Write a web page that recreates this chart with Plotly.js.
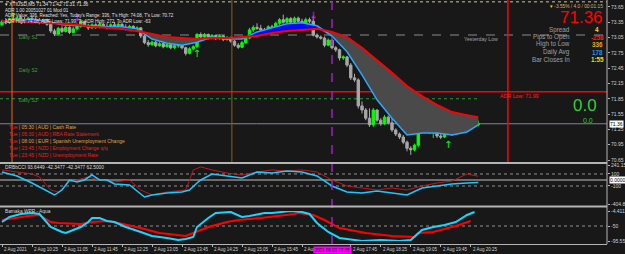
<!DOCTYPE html>
<html><head><meta charset="utf-8">
<script src="https://cdn.plot.ly/plotly-3.0.1.min.js"></script>
<style>html,body{margin:0;padding:0;background:#181818;}#chart{width:625px;height:254px;}</style>
</head><body><div id="chart"></div>
<script>
// ---- price bars (M5, bar index 0..127) ----
const openP = [73.30,73.36,73.34,73.42,73.38,73.44,73.40,73.36,73.43,73.41,73.39,73.34,73.40,73.31,73.18,73.12,73.23,73.17,73.25,73.15,73.22,73.27,73.36,73.29,73.24,73.30,73.25,73.31,73.27,73.24,73.30,73.28,73.31,73.25,73.22,73.27,73.21,73.24,73.08,72.95,72.91,72.96,72.89,72.93,72.87,72.91,72.85,72.89,72.91,72.85,72.74,72.83,72.87,73.11,73.06,73.11,73.04,73.09,73.03,73.08,73.01,73.05,72.98,72.90,72.86,72.95,73.04,73.20,73.25,73.23,73.20,73.17,73.26,73.22,73.33,73.40,73.35,73.42,73.35,73.43,73.37,73.33,73.40,73.37,73.10,73.06,73.04,72.90,73.00,72.85,72.81,72.65,72.67,72.51,72.26,72.22,71.71,71.63,71.47,71.34,71.63,71.43,71.36,71.49,71.38,71.24,71.16,71.10,71.00,70.88,70.85,70.94,71.32,71.24,71.22,71.20,71.26,71.12,71.10,71.26,71.20,71.16,71.28,71.36,71.30,71.36,71.40,71.34];
const highP = [73.40,73.43,73.44,73.47,73.46,73.48,73.45,73.45,73.49,73.46,73.43,73.42,73.42,73.33,73.22,73.26,73.27,73.28,73.27,73.26,73.31,73.40,73.38,73.32,73.33,73.33,73.35,73.34,73.33,73.33,73.36,73.34,73.33,73.31,73.30,73.29,73.27,73.25,73.11,73.00,72.99,72.98,72.96,72.95,72.94,72.93,72.92,72.94,72.93,72.87,72.86,72.90,73.14,73.15,73.14,73.13,73.12,73.11,73.11,73.10,73.08,73.07,73.00,72.94,72.98,73.07,73.24,73.29,73.33,73.30,73.24,73.29,73.30,73.36,73.43,73.50,73.45,73.45,73.46,73.46,73.42,73.44,73.44,73.48,73.13,73.09,73.07,73.03,73.02,72.88,72.83,72.70,72.69,72.55,72.34,72.25,71.80,71.67,71.66,71.67,71.64,71.47,71.53,71.52,71.55,71.27,71.19,71.14,71.03,70.92,70.97,71.36,71.38,71.27,71.25,71.29,71.28,71.16,71.30,71.28,71.24,71.31,71.40,71.42,71.39,71.43,71.47,71.42];
const lowP = [73.27,73.31,73.32,73.35,73.36,73.37,73.33,73.34,73.38,73.36,73.31,73.32,73.28,73.14,73.08,73.10,73.14,73.15,73.12,73.13,73.19,73.24,73.26,73.20,73.22,73.22,73.23,73.24,73.21,73.22,73.25,73.24,73.22,73.19,73.20,73.19,73.17,73.04,72.92,72.87,72.89,72.86,72.87,72.84,72.85,72.82,72.83,72.85,72.82,72.70,72.72,72.80,72.85,73.03,73.04,73.01,73.02,73.00,73.01,72.98,72.99,72.95,72.87,72.83,72.84,72.93,73.02,73.16,73.20,73.18,73.13,73.15,73.19,73.20,73.30,73.32,73.33,73.32,73.33,73.34,73.30,73.31,73.33,73.07,73.03,73.01,72.86,72.88,72.82,72.77,72.60,72.61,72.47,72.22,72.18,71.66,71.56,71.43,71.30,71.30,71.40,71.32,71.34,71.35,71.20,71.12,71.06,70.96,70.82,70.75,70.82,70.90,71.20,71.18,71.16,71.08,71.08,71.06,71.08,71.16,71.12,71.14,71.26,71.27,71.28,71.33,71.30,71.31];
const closeP = [73.36,73.34,73.42,73.38,73.44,73.40,73.36,73.43,73.41,73.39,73.34,73.40,73.31,73.18,73.12,73.23,73.17,73.25,73.15,73.22,73.27,73.36,73.29,73.24,73.30,73.25,73.31,73.27,73.24,73.30,73.28,73.31,73.25,73.22,73.27,73.21,73.24,73.08,72.95,72.91,72.96,72.89,72.93,72.87,72.91,72.85,72.89,72.91,72.85,72.74,72.83,72.87,73.11,73.06,73.11,73.04,73.09,73.03,73.08,73.01,73.05,72.98,72.90,72.86,72.95,73.04,73.20,73.25,73.23,73.20,73.17,73.26,73.22,73.33,73.40,73.35,73.42,73.35,73.43,73.37,73.33,73.40,73.37,73.10,73.06,73.04,72.90,73.00,72.85,72.81,72.65,72.67,72.51,72.26,72.22,71.71,71.63,71.47,71.34,71.63,71.43,71.36,71.49,71.38,71.24,71.16,71.10,71.00,70.88,70.85,70.94,71.32,71.24,71.22,71.20,71.26,71.12,71.10,71.26,71.20,71.16,71.28,71.36,71.30,71.36,71.40,71.34,71.36];

// ---- moving averages ----
const maBars = [0,4,8,12,16,20,24,28,32,36,40,44,48,52,56,60,64,68,72,76,80,84,88,92,96,100,104,108,112,116,120,124,127];
const maSlow = [73.37,73.37,73.35,73.34,73.32,73.30,73.26,73.24,73.22,73.18,73.12,73.06,73.04,73.02,73.04,73.04,73.06,73.08,73.14,73.18,73.20,73.22,73.16,73.06,72.85,72.61,72.36,72.10,71.90,71.73,71.59,71.53,71.49];
const maFast = [73.35,73.39,73.41,73.37,73.30,73.28,73.28,73.26,73.26,73.22,73.02,72.94,72.90,72.96,73.06,73.02,73.02,73.16,73.24,73.32,73.34,73.28,73.08,72.77,72.32,71.83,71.47,71.14,71.18,71.18,71.14,71.20,71.34];

// ---- CCI pane ----
const cciBlueBars = [0,4,8,12,14,16,18,20,22,24,26,28,30,34,38,40,44,48,50,52,53,56,60,64,68,72,76,80,84,88,92,96,100,104,108,112,116,120,124,127];
const cciBlue = [133,67,-50,-183,-250,-167,0,-33,0,83,0,0,-67,-83,-283,-250,-217,-200,-167,-50,0,100,67,33,133,117,150,133,67,-100,-200,-217,-183,-217,-250,-133,-100,-67,-50,-42];
const cciRedBars = [0,4,8,10,13,15,18,23,26,30,34,37,40,44,49,51,53,56,60,64,68,72,76,80,84,88,92,96,100,104,108,112,116,120,124,127];
const cciRed = [167,133,100,50,-167,-200,-33,50,0,-33,0,-167,-250,-200,-167,167,217,167,117,83,133,167,150,167,133,0,-100,-133,-167,-133,-167,-100,-50,-17,100,62];

// ---- WPR pane ----
const wprBlueBars = [0,2,5,8,10,13,16,17,19,21,23,24,26,28,30,33,37,40,44,47,49,51,52,55,57,61,64,66,70,72,77,80,82,84,87,90,96,101,106,109,112,115,118,121,124,126];
const wprBlue = [-37.8,-22.6,-13.5,-10.5,-13.5,-53.0,-68.2,-71.2,-62.1,-53.0,-37.8,-25.7,-25.7,-34.8,-37.8,-53.0,-68.2,-80.4,-86.4,-92.5,-89.5,-83.4,-53.0,-25.7,-10.5,-7.4,-22.6,-19.6,-10.5,-10.5,-4.4,-7.4,-13.5,-40.9,-68.2,-86.4,-95.5,-92.5,-95.5,-92.5,-62.1,-53.0,-46.9,-37.8,-16.6,-7.4];
const wprRedBars = [0,3,7,10,13,15,21,24,28,31,37,42,49,51,55,60,63,69,74,78,79,83,86,90,97,104,110,111,115,121,125];
const wprRed = [-31.8,-25.7,-19.6,-16.6,-37.8,-40.9,-43.9,-37.8,-34.8,-40.9,-56.1,-71.2,-80.4,-71.2,-53.0,-37.8,-31.8,-25.7,-19.6,-13.5,-10.5,-16.6,-31.8,-56.1,-71.2,-80.4,-83.4,-71.2,-68.2,-50.0,-34.8];

// ---- signal arrows ----
const upArrowBars = [3, 52, 119];
const upArrowPrices = [73.45, 72.71, 70.94];
const downArrowBars = [20, 83];
const downArrowPrices = [73.43, 73.46];

// ---- levels ----
const levelTop = 73.75, yesterdayLow = 73.10, adrLow = 71.99, dailyS3 = 71.85, bidPrice = 71.36;

// ---- axes labels ----
const mainTicks = [70.65,70.95,71.25,71.55,71.85,72.15,72.45,72.75,73.05,73.35,73.65];
const cciTicks = [241.1579,100,-100,-404.815];
const cciTickText = ["241.1579","100","-100","-404.815"];
const wprTicks = [-4.4112,-50,-95.5518];
const wprTickText = ["-4.4112","-50","-95.5518"];
const timeTickBars = [0,8,16,24,32,40,48,56,64,72,80,93,101,109,117,125];
const timeTickText = ["2 Aug 2021","2 Aug 10:25","2 Aug 11:05","2 Aug 11:45","2 Aug 12:25","2 Aug 13:05","2 Aug 13:45","2 Aug 14:25","2 Aug 15:05","2 Aug 15:45","2 Aug 16:25","2 Aug 17:45","2 Aug 18:25","2 Aug 19:05","2 Aug 19:45","2 Aug 20:25"];

const bars = closeP.map((_, i) => i);
const upper = maFast.map((v, i) => Math.max(v, maSlow[i]));
const lower = maFast.map((v, i) => Math.min(v, maSlow[i]));

// layout geometry helpers (pixels -> paper)
const PW = 607, PH = 244;
const px = x => x / PW, py = y => 1 - y / PH;
const FONT = "Liberation Sans, Arial, sans-serif";

const traces = [
  {x: maBars, y: maSlow, mode: 'lines', line: {width: 0}, hoverinfo: 'skip', showlegend: false},
  {x: maBars, y: upper, mode: 'lines', line: {width: 0}, fill: 'tonexty', fillcolor: '#0a0af0', hoverinfo: 'skip', showlegend: false},
  {x: maBars, y: maSlow, mode: 'lines', line: {width: 0}, hoverinfo: 'skip', showlegend: false},
  {x: maBars, y: lower, mode: 'lines', line: {width: 0}, fill: 'tonexty', fillcolor: '#4a4a4a', hoverinfo: 'skip', showlegend: false},
  {type: 'candlestick', x: bars, open: openP, high: highP, low: lowP, close: closeP,
   increasing: {line: {color: '#00ff00', width: 1}, fillcolor: '#00ff00'},
   decreasing: {line: {color: '#a8a8a8', width: 1}, fillcolor: '#a8a8a8'},
   whiskerwidth: 0, showlegend: false},
  {x: maBars, y: maFast, mode: 'lines', line: {color: '#2aa8ff', width: 1.5}, showlegend: false},
  {x: maBars, y: maSlow, mode: 'lines', line: {color: '#ff0000', width: 2}, showlegend: false},
  {x: upArrowBars, y: upArrowPrices, mode: 'text', text: upArrowBars.map(() => '↑'), textfont: {color: '#00ff00', size: 10, family: 'DejaVu Sans'}, showlegend: false},
  {x: downArrowBars, y: downArrowPrices, mode: 'text', text: downArrowBars.map(() => '↓'), textfont: {color: '#ff00ff', size: 10, family: 'DejaVu Sans'}, showlegend: false},
  {x: cciRedBars, y: cciRed, yaxis: 'y2', mode: 'lines', line: {color: '#c01818', width: 1}, showlegend: false},
  {x: cciBlueBars, y: cciBlue, yaxis: 'y2', mode: 'lines', line: {color: '#1ec8ff', width: 1.5}, showlegend: false},
  {x: wprRedBars, y: wprRed, yaxis: 'y3', mode: 'lines', line: {color: '#ff0000', width: 2}, showlegend: false},
  {x: wprBlueBars, y: wprBlue, yaxis: 'y3', mode: 'lines', line: {color: '#19d6ff', width: 2}, showlegend: false}
];

const hline = (yref, y, color, dash, width, x1) => ({type: 'line', xref: 'paper', x0: 0, x1: x1 === undefined ? 1 : x1, yref: yref, y0: y, y1: y, line: {color: color, dash: dash, width: width}, layer: 'below'});
const shapes = [
  hline('y', levelTop, '#c8c890', 'dot', 1),
  hline('y', yesterdayLow, '#8a8a8a', 'dash', 1),
  hline('y', adrLow, '#ff0000', 'solid', 1.5),
  hline('y', dailyS3, '#2a9a2a', 'dot', 1, px(480)),
  hline('y', bidPrice, '#7a8796', 'solid', 1),
  hline('y2', 100, '#909090', 'dot', 1),
  hline('y2', 0, '#8a8a8a', 'solid', 1.5),
  hline('y2', -100, '#909090', 'dot', 1),
  hline('y3', -50, '#909090', 'dot', 1),
  {type: 'line', xref: 'x', x0: 2.67, x1: 2.67, yref: 'paper', y0: py(162), y1: 1, line: {color: '#e8641e', width: 1}},
  {type: 'line', xref: 'x', x0: 61.3, x1: 61.3, yref: 'paper', y0: py(162), y1: 1, line: {color: '#8c5a1e', width: 1}},
  {type: 'line', xref: 'x', x0: 134.9, x1: 134.9, yref: 'paper', y0: py(162), y1: 1, line: {color: '#ff0000', width: 1.5}},
  {type: 'line', xref: 'x', x0: 88, x1: 88, yref: 'paper', y0: 0, y1: 1, line: {color: '#a020c0', width: 1.5, dash: 'dash'}},
  {type: 'line', xref: 'paper', x0: 0, x1: 1, yref: 'paper', y0: py(163), y1: py(163), line: {color: '#b4b4b4', width: 2}},
  {type: 'line', xref: 'paper', x0: 0, x1: 1, yref: 'paper', y0: py(206.5), y1: py(206.5), line: {color: '#b4b4b4', width: 2}},
  {type: 'line', xref: 'paper', x0: 1, x1: 1, yref: 'paper', y0: 0, y1: 1, line: {color: '#b4b4b4', width: 1}}
];

const txt = (x, y, text, size, color, anchor, extra) => Object.assign({xref: 'paper', yref: 'paper', x: px(x), y: py(y), text: text, showarrow: false, xanchor: anchor || 'left', yanchor: 'middle', font: {family: FONT, size: size, color: color}}, extra || {});
const red = '#e82020', orange = '#e0a040';
const annotations = [
  txt(3, 5, '▾ XTIUSD,M5 71.34 71.42 71.31 71.36', 4.8, '#e0e0e0'),
  txt(3, 10.5, 'ADR 1.00 20051027 01 Mod 01', 4.5, '#e0e0e0'),
  txt(3, 16, "ADR Value: 336, Reached: Yes, Today's Range: 336, T's High: 74.08, T's Low: 70.72", 4.5, '#e0e0e0'),
  txt(3, 21.5, 'ADR High: 74.08, ADR Lows: 71.99, To ADR High: 272, To ADR Low: -63', 4.5, '#e0e0e0'),
  txt(17, 37, 'Daily S1', 5, '#3aa03a'),
  txt(17, 70, 'Daily S2', 5, '#3aa03a'),
  txt(17, 100, 'Daily S3', 5, '#3aa03a'),
  txt(462, 39, 'Yesterday Low', 5.2, '#a0a0a0'),
  txt(498, 96, 'ADR Low: 71.99', 5.3, '#ff2020'),
  txt(7, 127, '<span style="color:' + red + '">Tue</span> | 05:30 | AUD | Cash Rate', 5, orange),
  txt(7, 134, 'Tue | 05:30 | AUD | RBA Rate Statement', 5, red),
  txt(7, 141, '<span style="color:' + red + '">Tue</span> | 08:00 | EUR | Spanish Unemployment Change', 5, orange),
  txt(7, 148, 'Tue | 23:45 | NZD | Employment Change q/q', 5, red),
  txt(7, 155, 'Tue | 23:45 | NZD | Unemployment Rate', 5, red),
  txt(605, 6, '<span style="color:#ffd700">▾</span> -3.55% / 4.0 / 00:01:15', 4.8, '#d8b070', 'right'),
  txt(605, 18, '71.36', 17, '#ff0000', 'right'),
  txt(572, 29.5, 'Spread', 6.3, '#a0a0a0', 'right'),
  txt(572, 37, 'Pips to Open', 6.3, '#a0a0a0', 'right'),
  txt(572, 44.5, 'High to Low', 6.3, '#a0a0a0', 'right'),
  txt(572, 52, 'Daily Avg', 6.3, '#a0a0a0', 'right'),
  txt(572, 59.5, 'Bar Closes In', 6.3, '#a0a0a0', 'right'),
  txt(597, 29.5, '<b>4</b>', 6.3, '#ffd700', 'center'),
  txt(597, 37, '<b>-258</b>', 6.3, '#ff2020', 'center'),
  txt(597, 44.5, '<b>336</b>', 6.3, '#e0b000', 'center'),
  txt(597, 52, '<b>178</b>', 6.3, '#1e90ff', 'center'),
  txt(597, 59.5, '<b>1:55</b>', 6.3, '#ffd700', 'center'),
  txt(585, 106, '0.0', 17, '#32cd32', 'center'),
  txt(588, 120.5, '0.0', 7, '#32cd32', 'center'),
  txt(3, 167.5, 'DRBbCCI 93.6449 -42.3477 -42.3477 62.5000', 4.8, '#d8d8d8'),
  txt(3, 211, 'Bamaka WPR - Aqua', 4.8, '#d8d8d8'),
  {xref: 'paper', yref: 'y', x: 1, y: bidPrice, text: '71.36', showarrow: false, xanchor: 'left', yanchor: 'middle', xshift: 2, bgcolor: '#ffffff', borderpad: 0, font: {family: FONT, size: 5, color: '#000000'}},
  {xref: 'paper', yref: 'y2', x: 1, y: 0, text: '0.0000', showarrow: false, xanchor: 'left', yanchor: 'middle', xshift: 2, bgcolor: '#ffffff', borderpad: 0, font: {family: FONT, size: 5, color: '#000000'}}
];
timeTickBars.forEach((b, i) => annotations.push({xref: 'x', yref: 'paper', x: b, y: py(249.5), text: timeTickText[i], showarrow: false, xanchor: 'left', yanchor: 'middle', font: {family: FONT, size: 4.5, color: '#d0d0d0'}}));
annotations.push({xref: 'x', yref: 'paper', x: 88, y: py(249.5), text: '2021.08.02 17:05', showarrow: false, xanchor: 'center', yanchor: 'middle', bgcolor: '#ff00ff', borderpad: 0.5, font: {family: FONT, size: 4.5, color: '#300030'}});

const yCommon = {side: 'right', anchor: 'x', showgrid: false, zeroline: false, showline: false, ticks: 'outside', ticklen: 2, tickcolor: '#b4b4b4', tickfont: {family: FONT, size: 5, color: '#d0d0d0'}, fixedrange: true};
const layout = {
  width: 625, height: 254,
  margin: {l: 0, r: 18, t: 0, b: 10},
  paper_bgcolor: '#181818', plot_bgcolor: '#181818',
  showlegend: false,
  boxgap: 0.1,
  xaxis: {domain: [0, 1], range: [-0.533, 161.33], anchor: 'free', position: 0, showgrid: false, zeroline: false,
          showline: true, linecolor: '#b4b4b4', linewidth: 1, ticks: 'outside', ticklen: 2, tickcolor: '#b4b4b4',
          tickmode: 'array', tickvals: timeTickBars, showticklabels: false, rangeslider: {visible: false}, fixedrange: true},
  yaxis: Object.assign({}, yCommon, {domain: [py(162), 1], range: [70.611, 73.786], tickmode: 'array', tickvals: mainTicks, ticktext: mainTicks.map(v => v.toFixed(2))}),
  yaxis2: Object.assign({}, yCommon, {domain: [py(204.3), py(165.5)], range: [-404.815, 241.1579], tickmode: 'array', tickvals: cciTicks, ticktext: cciTickText}),
  yaxis3: Object.assign({}, yCommon, {domain: [py(241), py(211)], range: [-95.5518, -4.4112], tickmode: 'array', tickvals: wprTicks, ticktext: wprTickText}),
  shapes: shapes,
  annotations: annotations
};

Plotly.newPlot('chart', traces, layout, {staticPlot: true, displayModeBar: false});
</script>
</body></html>
